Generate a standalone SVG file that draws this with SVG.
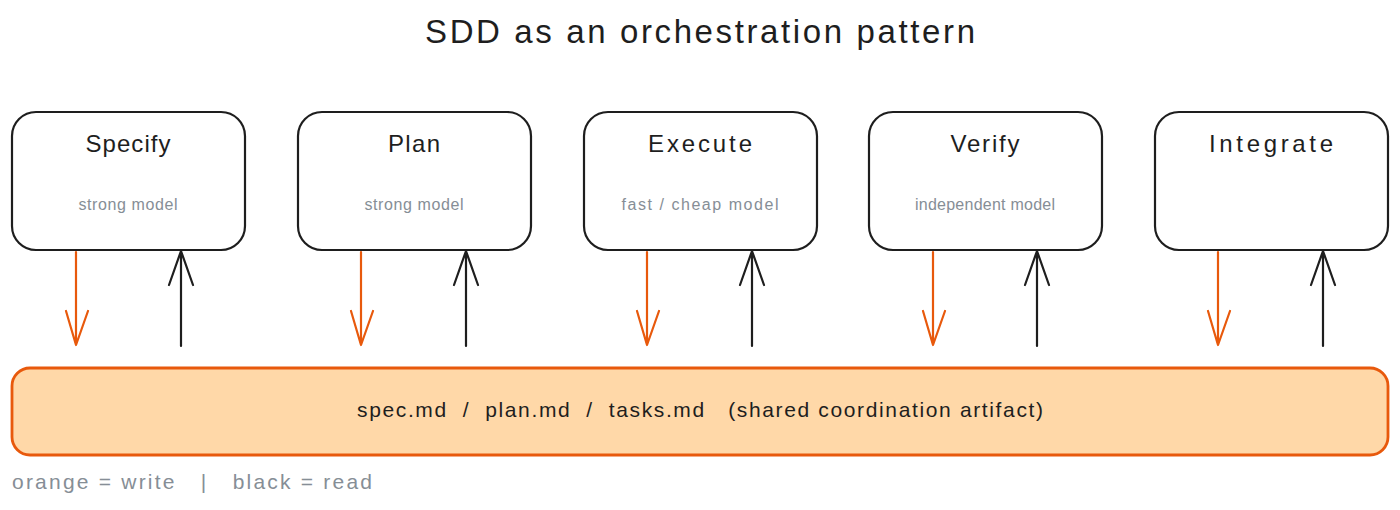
<svg xmlns="http://www.w3.org/2000/svg" width="1400" height="510" viewBox="0 0 1400 510">
<style>
text{font-family:"Liberation Sans",Arial,sans-serif}
.title{font-size:33px;fill:#1e1e1e;text-anchor:middle}
.box{fill:#fff;stroke:#1e1e1e;stroke-width:2.2}
.nt{font-size:24px;fill:#1e1e1e;text-anchor:middle}
.ns{font-size:16px;fill:#868e96;text-anchor:middle}
.w{stroke:#e8590c;stroke-width:2.2;fill:none;stroke-linecap:round;stroke-linejoin:round}
.r{stroke:#1e1e1e;stroke-width:2.2;fill:none;stroke-linecap:round;stroke-linejoin:round}
.bar{fill:#ffd8a8;stroke:#e8590c;stroke-width:2.8}
.bt{font-size:21px;fill:#1e1e1e;text-anchor:middle;white-space:pre}
.leg{font-size:21px;fill:#868e96;white-space:pre}
</style>
<text class="title" x="700" y="43" textLength="550" lengthAdjust="spacing">SDD as an orchestration pattern</text>
<g id="specify"><rect class="box" x="12" y="112" width="233" height="138" rx="24"/><text class="nt" x="128" y="152" textLength="85" lengthAdjust="spacing">Specify</text><text class="ns" x="128" y="210" textLength="99" lengthAdjust="spacing">strong model</text></g>
<g id="plan"><rect class="box" x="298" y="112" width="233" height="138" rx="24"/><text class="nt" x="414" y="152" textLength="52" lengthAdjust="spacing">Plan</text><text class="ns" x="414" y="210" textLength="99" lengthAdjust="spacing">strong model</text></g>
<g id="execute"><rect class="box" x="584" y="112" width="233" height="138" rx="24"/><text class="nt" x="700" y="152" textLength="104" lengthAdjust="spacing">Execute</text><text class="ns" x="700" y="210" textLength="157" lengthAdjust="spacing">fast / cheap model</text></g>
<g id="verify"><rect class="box" x="869" y="112" width="233" height="138" rx="24"/><text class="nt" x="985" y="152" textLength="69" lengthAdjust="spacing">Verify</text><text class="ns" x="985" y="210" textLength="140" lengthAdjust="spacing">independent model</text></g>
<g id="integrate"><rect class="box" x="1155" y="112" width="233" height="138" rx="24"/><text class="nt" x="1271" y="152" textLength="124" lengthAdjust="spacing">Integrate</text></g>
<g id="artifact"><rect class="bar" x="12" y="368" width="1376" height="87" rx="18"/><text class="bt" x="700" y="417" xml:space="preserve" textLength="686" lengthAdjust="spacing">spec.md  /  plan.md  /  tasks.md   (shared coordination artifact)</text></g>
<g id="connectors">
<path class="w" d="M76 252V345M66 311L76 345L88 311"/>
<path class="r" d="M181 346V251M169 285L181 251L193 285"/>
<path class="w" d="M361 252V345M351 311L361 345L373 311"/>
<path class="r" d="M466 346V251M454 285L466 251L478 285"/>
<path class="w" d="M647 252V345M637 311L647 345L659 311"/>
<path class="r" d="M752 346V251M740 285L752 251L764 285"/>
<path class="w" d="M933 252V345M923 311L933 345L945 311"/>
<path class="r" d="M1037 346V251M1025 285L1037 251L1049 285"/>
<path class="w" d="M1218 252V345M1208 311L1218 345L1230 311"/>
<path class="r" d="M1323 346V251M1311 285L1323 251L1335 285"/>
</g>
<text class="leg" x="12" y="489" xml:space="preserve" textLength="360" lengthAdjust="spacing">orange = write   |   black = read</text>
</svg>
